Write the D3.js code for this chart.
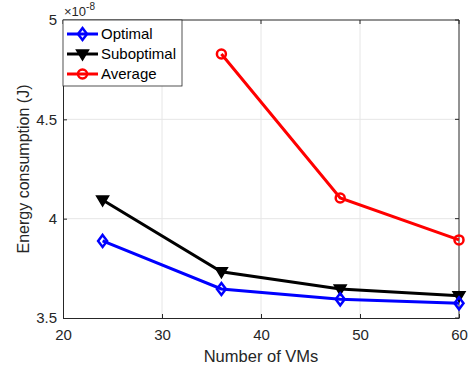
<!DOCTYPE html>
<html>
<head>
<meta charset="utf-8">
<script src="https://cdn.jsdelivr.net/npm/d3@7"></script>
<style>
body { margin: 0; background: #fff; }
text { font-family: "Liberation Sans", Arial, sans-serif; }
</style>
</head>
<body>
<svg id="chart" width="473" height="372"></svg>
<script>
// data (energy in units of 1e-8 J)
var vms = [24, 36, 48, 60];
var optimal = [3.888, 3.646, 3.594, 3.574];
var suboptimal = [4.094, 3.733, 3.646, 3.612];
var averageVms = [36, 48, 60];
var average = [4.829, 4.104, 3.893];
var xTicks = [20, 30, 40, 50, 60];
var yTicks = [3.5, 4, 4.5, 5];

var width = 473, height = 372;
var margin = {left: 63, right: 14, top: 20, bottom: 54};

var svg = d3.select("#chart");

var x = d3.scaleLinear().domain([20, 60]).range([margin.left, width - margin.right]);
var y = d3.scaleLinear().domain([3.5, 5]).range([height - margin.bottom, margin.top]);

// grid
svg.append("g").selectAll("line.gx")
    .data(xTicks.slice(1, -1))
    .join("line")
    .attr("x1", d => x(d)).attr("x2", d => x(d))
    .attr("y1", y(3.5)).attr("y2", y(5))
    .attr("stroke", "#e6e6e6").attr("stroke-width", 1);
svg.append("g").selectAll("line.gy")
    .data(yTicks.slice(1, -1))
    .join("line")
    .attr("x1", x(20)).attr("x2", x(60))
    .attr("y1", d => y(d)).attr("y2", d => y(d))
    .attr("stroke", "#e6e6e6").attr("stroke-width", 1);

// axes
var xAxis = d3.axisBottom(x).tickValues(xTicks).tickSizeInner(-4).tickSizeOuter(0).tickPadding(11);
var yAxis = d3.axisLeft(y).tickValues(yTicks).tickFormat(d3.format("")).tickSizeInner(-4).tickSizeOuter(0).tickPadding(6);

var gx = svg.append("g").attr("transform", "translate(0," + y(3.5) + ")").call(xAxis);
var gy = svg.append("g").attr("transform", "translate(" + x(20) + ",0)").call(yAxis);
[gx, gy].forEach(g => {
    g.select(".domain").attr("stroke", "#262626");
    g.selectAll(".tick line").attr("stroke", "#262626");
    g.selectAll("text").attr("fill", "#262626").style("font-size", "15px");
});
// top/right box with inward ticks
svg.append("line").attr("x1", x(20)).attr("x2", x(60)).attr("y1", y(5)).attr("y2", y(5)).attr("stroke", "#262626");
svg.append("line").attr("x1", x(60)).attr("x2", x(60)).attr("y1", y(5)).attr("y2", y(3.5)).attr("stroke", "#262626");
svg.append("g").selectAll("line")
    .data(xTicks)
    .join("line")
    .attr("x1", d => x(d)).attr("x2", d => x(d))
    .attr("y1", y(5)).attr("y2", y(5) + 4)
    .attr("stroke", "#262626");
svg.append("g").selectAll("line")
    .data(yTicks)
    .join("line")
    .attr("x1", x(60)).attr("x2", x(60) - 4)
    .attr("y1", d => y(d)).attr("y2", d => y(d))
    .attr("stroke", "#262626");

// exponent
var expo = svg.append("text").attr("x", x(20) + 1).attr("y", 16).attr("fill", "#262626").style("font-size", "13px");
expo.append("tspan").text("\u00d710");
expo.append("tspan").attr("dy", -6).style("font-size", "10px").text("-8");

// labels
svg.append("text")
    .attr("x", (x(20) + x(60)) / 2).attr("y", 362)
    .attr("text-anchor", "middle").attr("fill", "#262626").style("font-size", "16.5px")
    .text("Number of VMs");
svg.append("text")
    .attr("transform", "translate(29," + ((y(3.5) + y(5)) / 2) + ") rotate(-90)")
    .attr("text-anchor", "middle").attr("fill", "#262626").style("font-size", "16px")
    .text("Energy consumption (J)");

var line = d3.line().x(d => x(d[0])).y(d => y(d[1]));

function diamond(g, cx, cy, color) {
    g.append("path")
        .attr("d", "M" + cx + "," + (cy - 6) + "L" + (cx + 4.5) + "," + cy + "L" + cx + "," + (cy + 6) + "L" + (cx - 4.5) + "," + cy + "Z")
        .attr("fill", "none").attr("stroke", color).attr("stroke-width", 2.5);
}
function triDown(g, cx, cy, color) {
    g.append("path")
        .attr("d", "M" + (cx - 6) + "," + (cy - 4) + "L" + (cx + 6) + "," + (cy - 4) + "L" + cx + "," + (cy + 6) + "Z")
        .attr("fill", color).attr("stroke", color).attr("stroke-width", 1.5);
}
function circ(g, cx, cy, color) {
    g.append("circle").attr("cx", cx).attr("cy", cy).attr("r", 4.5)
        .attr("fill", "none").attr("stroke", color).attr("stroke-width", 2.5);
}

var series = [
    {name: "Optimal", xs: vms, ys: optimal, color: "#0000ff", marker: diamond},
    {name: "Suboptimal", xs: vms, ys: suboptimal, color: "#000000", marker: triDown},
    {name: "Average", xs: averageVms, ys: average, color: "#ff0000", marker: circ}
];

var plot = svg.append("g");
series.slice().reverse().forEach(s => {
    var pts = s.xs.map((v, i) => [v, s.ys[i]]);
    plot.append("path").datum(pts)
        .attr("d", line)
        .attr("fill", "none").attr("stroke", s.color).attr("stroke-width", 3);
    pts.forEach(p => s.marker(plot, x(p[0]), y(p[1]), s.color));
});

// legend
var lg = svg.append("g");
lg.append("rect")
    .attr("x", x(20)).attr("y", y(5))
    .attr("width", 119).attr("height", 66)
    .attr("fill", "#fff").attr("stroke", "#262626").attr("stroke-width", 0.8);
series.forEach((s, i) => {
    var ly = y(5) + 14 + i * 20;
    lg.append("line")
        .attr("x1", x(20) + 4).attr("x2", x(20) + 35)
        .attr("y1", ly).attr("y2", ly)
        .attr("stroke", s.color).attr("stroke-width", 3);
    s.marker(lg, x(20) + 19.5, ly, s.color);
    lg.append("text")
        .attr("x", x(20) + 38).attr("y", ly + 5)
        .attr("fill", "#000").style("font-size", "15px")
        .text(s.name);
});
</script>
</body>
</html>
